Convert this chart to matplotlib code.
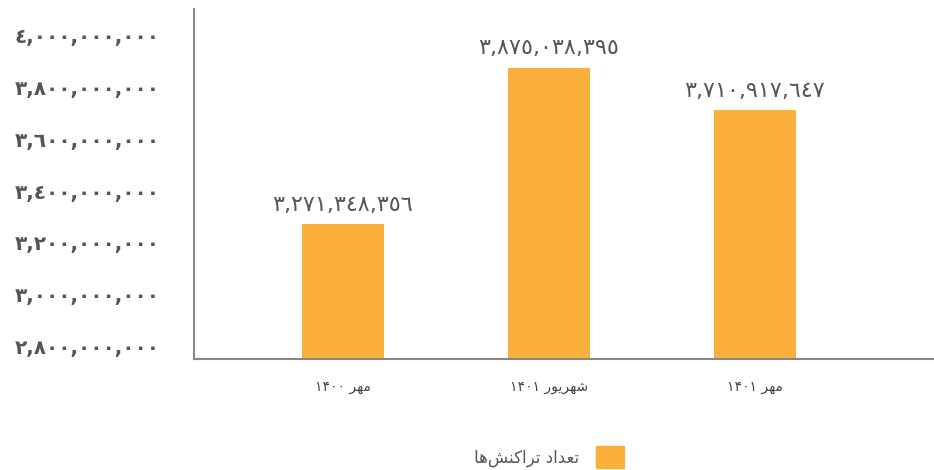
import matplotlib.pyplot as plt
from matplotlib.patches import Patch

# data
categories = ["مهر ۱۴۰۰", "شهریور ۱۴۰۱", "مهر ۱۴۰۱"]
values = [3271348356, 3875038395, 3710917647]
series_name = "تعداد تراکنش‌ها"
y_ticks = [2800000000, 3000000000, 3200000000, 3400000000,
           3600000000, 3800000000, 4000000000]

bar_color = '#FBB03B'
text_color = '#555555'

# matplotlib does no arabic shaping, so pick the presentation forms by hand
# forms: isolated, final, initial, medial
FORMS = {
    'ا': ('\uFE8D', '\uFE8E', None, None),
    'د': ('\uFEA9', '\uFEAA', None, None),
    'ر': ('\uFEAD', '\uFEAE', None, None),
    'و': ('\uFEED', '\uFEEE', None, None),
    'ت': ('\uFE95', '\uFE96', '\uFE97', '\uFE98'),
    'ع': ('\uFEC9', '\uFECA', '\uFECB', '\uFECC'),
    'ش': ('\uFEB5', '\uFEB6', '\uFEB7', '\uFEB8'),
    'ک': ('\uFB8E', '\uFB8F', '\uFB90', '\uFB91'),
    'ن': ('\uFEE5', '\uFEE6', '\uFEE7', '\uFEE8'),
    'م': ('\uFEE1', '\uFEE2', '\uFEE3', '\uFEE4'),
    'ه': ('\uFEE9', '\uFEEA', '\uFEEB', '\uFEEC'),
    'ی': ('\uFBFC', '\uFBFD', '\uFBFE', '\uFBFF'),
}


def shape(word):
    out = []
    for i, ch in enumerate(word):
        if ch not in FORMS:
            if ch != '\u200c':
                out.append(ch)
            continue
        prev = word[i - 1] if i > 0 else ''
        nxt = word[i + 1] if i + 1 < len(word) else ''
        iso, fin, ini, med = FORMS[ch]
        join_prev = prev in FORMS and FORMS[prev][2] is not None
        join_next = nxt in FORMS and ini is not None
        if join_prev and join_next:
            out.append(med)
        elif join_prev:
            out.append(fin)
        elif join_next:
            out.append(ini)
        else:
            out.append(iso)
    return ''.join(out)


def rtl(text):
    words = []
    for w in reversed(text.split(' ')):
        if any(c in FORMS for c in w):
            words.append(shape(w)[::-1])
        else:
            words.append(w)
    return ' '.join(words)


arabic_digits = str.maketrans('0123456789', '٠١٢٣٤٥٦٧٨٩')


def fmt(v):
    return f"{v:,}".translate(arabic_digits)


plt.rcParams['font.family'] = ['DejaVu Sans']

fig = plt.figure(figsize=(9.34, 4.70), dpi=100)
ax = fig.add_axes([194 / 934, 1 - 359 / 470, 740 / 934, 350 / 470])

x = list(range(len(categories)))
bars = ax.bar(x, values, width=0.40, color=bar_color, zorder=2)

ax.set_xlim(-0.723, 2.869)
ax.set_ylim(2.7525e9, 4.1023e9)

for b, v in zip(bars, values):
    ax.annotate(fmt(v), (b.get_x() + b.get_width() / 2, v),
                xytext=(0, 7), textcoords='offset points',
                ha='center', va='bottom', fontsize=16, color=text_color)

ax.set_yticks(y_ticks)
ax.set_yticklabels([fmt(t) for t in y_ticks], fontsize=14.5,
                   color=text_color, fontweight='bold', ha='left')
ax.tick_params(axis='y', length=0, pad=129)

ax.set_xticks(x)
ax.set_xticklabels([rtl(c) for c in categories], fontsize=10, color='#444444')
ax.tick_params(axis='x', length=0, pad=15)

for s in ['top', 'right']:
    ax.spines[s].set_visible(False)
for s in ['left', 'bottom']:
    ax.spines[s].set_color('#888888')
    ax.spines[s].set_linewidth(1.5)

handle = Patch(color=bar_color)
fig.legend([handle], [rtl(series_name)], loc='lower center',
           bbox_to_anchor=(0.588, 0.0), frameon=False, markerfirst=False,
           handlelength=1.7, handleheight=1.7, fontsize=12,
           borderaxespad=0.0, borderpad=0.1, handletextpad=1.0,
           labelcolor=text_color)

fig.savefig('out.png', dpi=100)
